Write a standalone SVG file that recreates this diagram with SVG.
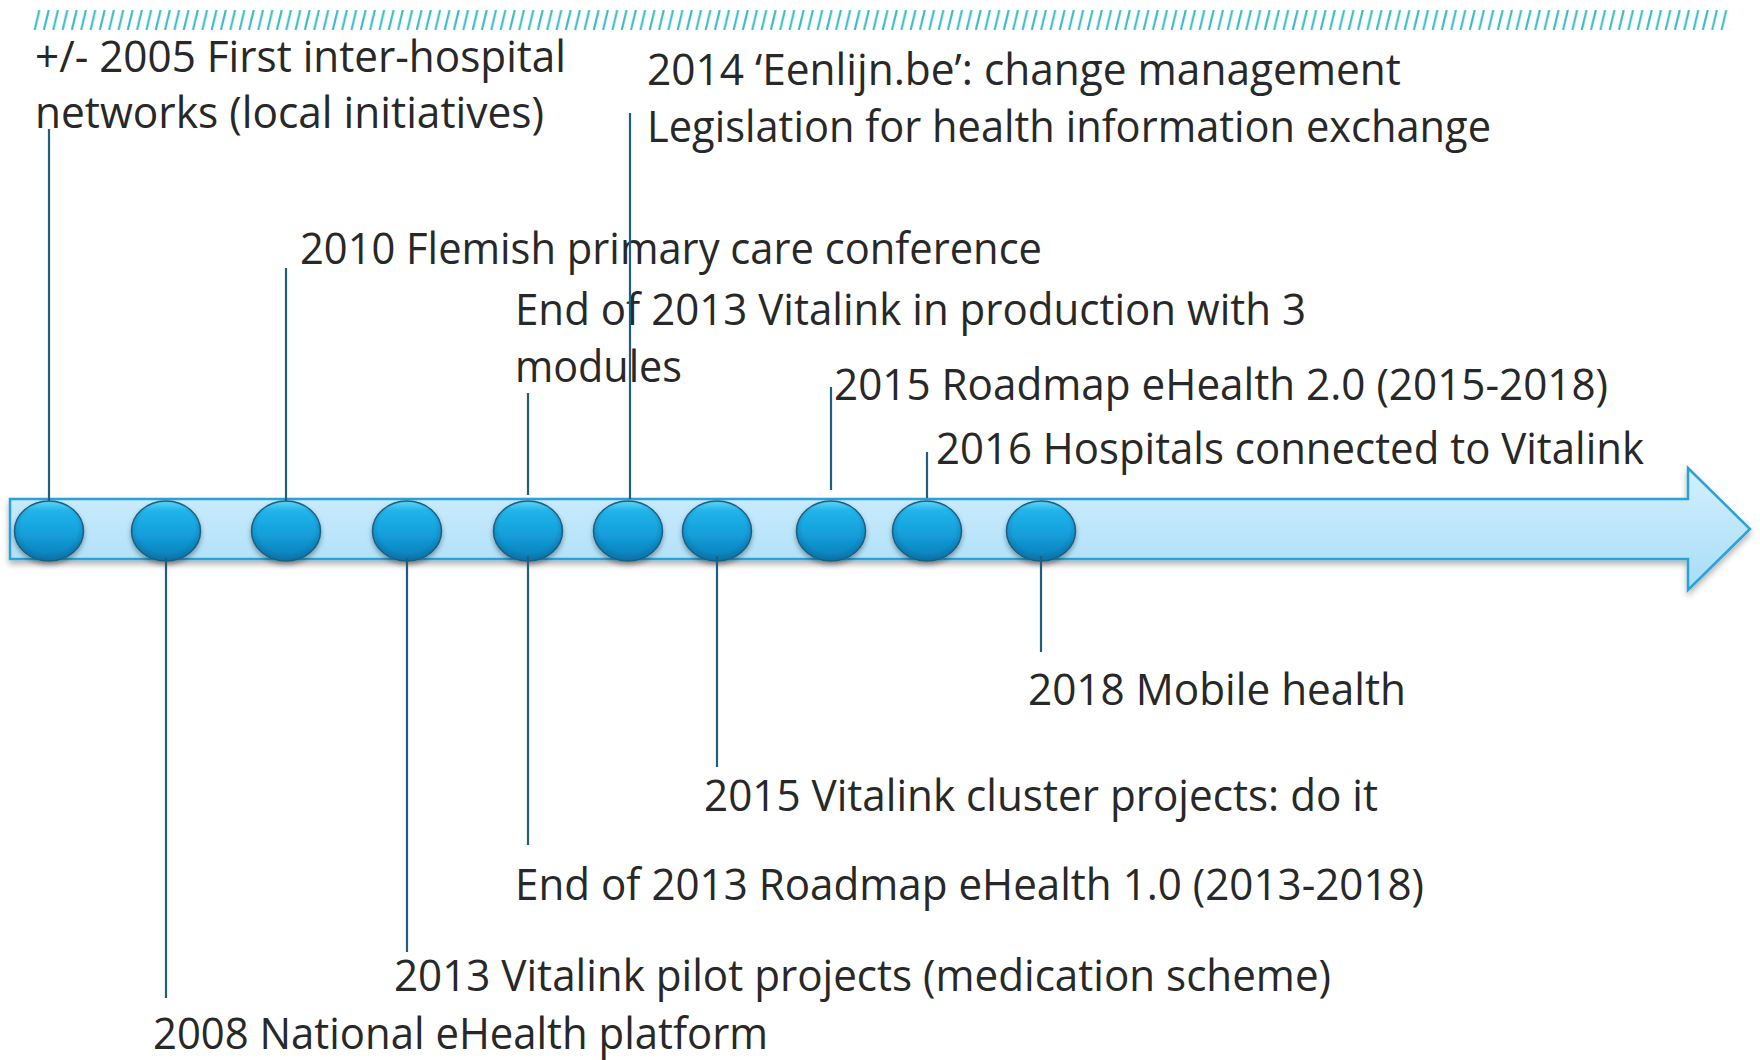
<svg xmlns="http://www.w3.org/2000/svg" width="1760" height="1060" viewBox="0 0 1760 1060">
  <defs>
    <pattern id="hatch" patternUnits="userSpaceOnUse" x="33" y="10" width="9.32" height="20">
      <line x1="6.4" y1="0" x2="1.6" y2="20" stroke="#36BCC8" stroke-width="2.1"/>
    </pattern>
    <linearGradient id="barFill" x1="0" y1="0" x2="0" y2="1">
      <stop offset="0" stop-color="#D3EFFD"/>
      <stop offset="1" stop-color="#A7DDF8"/>
    </linearGradient>
    <linearGradient id="ballFill" x1="0" y1="0" x2="0" y2="1">
      <stop offset="0" stop-color="#5CD6F7"/>
      <stop offset="0.16" stop-color="#22B4EA"/>
      <stop offset="0.55" stop-color="#139FDB"/>
      <stop offset="1" stop-color="#0C7DB6"/>
    </linearGradient>
    <radialGradient id="ballShade" cx="0.5" cy="0.45" r="0.55">
      <stop offset="0.75" stop-color="#0A5F8A" stop-opacity="0"/>
      <stop offset="1" stop-color="#0A5F8A" stop-opacity="0.45"/>
    </radialGradient>
    <filter id="shadow" x="-10%" y="-30%" width="120%" height="170%">
      <feDropShadow dx="0" dy="4" stdDeviation="3" flood-color="#000" flood-opacity="0.3"/>
    </filter>
    <filter id="ballShadow" x="-30%" y="-30%" width="160%" height="170%">
      <feDropShadow dx="0" dy="3" stdDeviation="2.5" flood-color="#000" flood-opacity="0.35"/>
    </filter>
  </defs>
  <style>
    .lbl { font-family: "Open Sans", "Liberation Sans", sans-serif; font-size: 43px; fill: #282828; }
    .ball { fill: url(#ballFill); stroke: #1D5F80; stroke-width: 1.5; filter: url(#ballShadow); }
    .shade { fill: url(#ballShade); }
    .conn line { stroke: #1E5F7F; stroke-width: 2.2; }
  </style>

  <rect id="hatch-band" x="33" y="10" width="1697" height="20" fill="url(#hatch)"/>

  <g id="timeline-bar">
    <path d="M10,499 H1688 V468 L1750,529 L1688,590 V559 H10 Z" fill="url(#barFill)" stroke="#2AA2D8" stroke-width="2.5" stroke-linejoin="miter" filter="url(#shadow)"/>
  </g>

  <g id="node-2005">
    <ellipse class="ball" cx="49" cy="531" rx="34.5" ry="30"/>
    <ellipse class="shade" cx="49" cy="531" rx="34.5" ry="30"/>
    <text class="lbl" x="35" y="72" textLength="531" lengthAdjust="spacingAndGlyphs">+/- 2005 First inter-hospital</text>
    <text class="lbl" x="35" y="128" textLength="509" lengthAdjust="spacingAndGlyphs">networks (local initiatives)</text>
  </g>
  <g id="node-2008">
    <ellipse class="ball" cx="166" cy="531" rx="34.5" ry="30"/>
    <ellipse class="shade" cx="166" cy="531" rx="34.5" ry="30"/>
    <text class="lbl" x="153" y="1049" textLength="615" lengthAdjust="spacingAndGlyphs">2008 National eHealth platform</text>
  </g>
  <g id="node-2010">
    <ellipse class="ball" cx="286" cy="531" rx="34.5" ry="30"/>
    <ellipse class="shade" cx="286" cy="531" rx="34.5" ry="30"/>
    <text class="lbl" x="300" y="264" textLength="742" lengthAdjust="spacingAndGlyphs">2010 Flemish primary care conference</text>
  </g>
  <g id="node-2013-pilot">
    <ellipse class="ball" cx="407" cy="531" rx="34.5" ry="30"/>
    <ellipse class="shade" cx="407" cy="531" rx="34.5" ry="30"/>
    <text class="lbl" x="394" y="991" textLength="937" lengthAdjust="spacingAndGlyphs">2013 Vitalink pilot projects (medication scheme)</text>
  </g>
  <g id="node-end-2013">
    <ellipse class="ball" cx="528" cy="531" rx="34.5" ry="30"/>
    <ellipse class="shade" cx="528" cy="531" rx="34.5" ry="30"/>
    <text class="lbl" x="515" y="325" textLength="791" lengthAdjust="spacingAndGlyphs">End of 2013 Vitalink in production with 3</text>
    <text class="lbl" x="515" y="382" textLength="167" lengthAdjust="spacingAndGlyphs">modules</text>
    <text class="lbl" x="515" y="900" textLength="909" lengthAdjust="spacingAndGlyphs">End of 2013 Roadmap eHealth 1.0 (2013-2018)</text>
  </g>
  <g id="node-2014">
    <ellipse class="ball" cx="628" cy="531" rx="34.5" ry="30"/>
    <ellipse class="shade" cx="628" cy="531" rx="34.5" ry="30"/>
    <text class="lbl" x="647" y="85" textLength="754" lengthAdjust="spacingAndGlyphs">2014 ‘Eenlijn.be’: change management</text>
    <text class="lbl" x="647" y="142" textLength="844" lengthAdjust="spacingAndGlyphs">Legislation for health information exchange</text>
  </g>
  <g id="node-2015-cluster">
    <ellipse class="ball" cx="717" cy="531" rx="34.5" ry="30"/>
    <ellipse class="shade" cx="717" cy="531" rx="34.5" ry="30"/>
    <text class="lbl" x="704" y="811" textLength="674" lengthAdjust="spacingAndGlyphs">2015 Vitalink cluster projects: do it</text>
  </g>
  <g id="node-2015-roadmap">
    <ellipse class="ball" cx="831" cy="531" rx="34.5" ry="30"/>
    <ellipse class="shade" cx="831" cy="531" rx="34.5" ry="30"/>
    <text class="lbl" x="834" y="400" textLength="774" lengthAdjust="spacingAndGlyphs">2015 Roadmap eHealth 2.0 (2015-2018)</text>
  </g>
  <g id="node-2016">
    <ellipse class="ball" cx="927" cy="531" rx="34.5" ry="30"/>
    <ellipse class="shade" cx="927" cy="531" rx="34.5" ry="30"/>
    <text class="lbl" x="936" y="464" textLength="708" lengthAdjust="spacingAndGlyphs">2016 Hospitals connected to Vitalink</text>
  </g>
  <g id="node-2018">
    <ellipse class="ball" cx="1041" cy="531" rx="34.5" ry="30"/>
    <ellipse class="shade" cx="1041" cy="531" rx="34.5" ry="30"/>
    <text class="lbl" x="1028" y="705" textLength="378" lengthAdjust="spacingAndGlyphs">2018 Mobile health</text>
  </g>

  <g id="connectors" class="conn">
    <line x1="49" y1="129" x2="49" y2="501"/>
    <line x1="166" y1="558" x2="166" y2="998"/>
    <line x1="286" y1="268" x2="286" y2="501"/>
    <line x1="407" y1="558" x2="407" y2="952"/>
    <line x1="528" y1="393" x2="528" y2="495"/>
    <line x1="528" y1="556" x2="528" y2="845"/>
    <line x1="630" y1="113" x2="630" y2="499"/>
    <line x1="717" y1="556" x2="717" y2="767"/>
    <line x1="831" y1="387" x2="831" y2="490"/>
    <line x1="927" y1="452" x2="927" y2="498"/>
    <line x1="1041" y1="556" x2="1041" y2="652"/>
  </g>
</svg>
